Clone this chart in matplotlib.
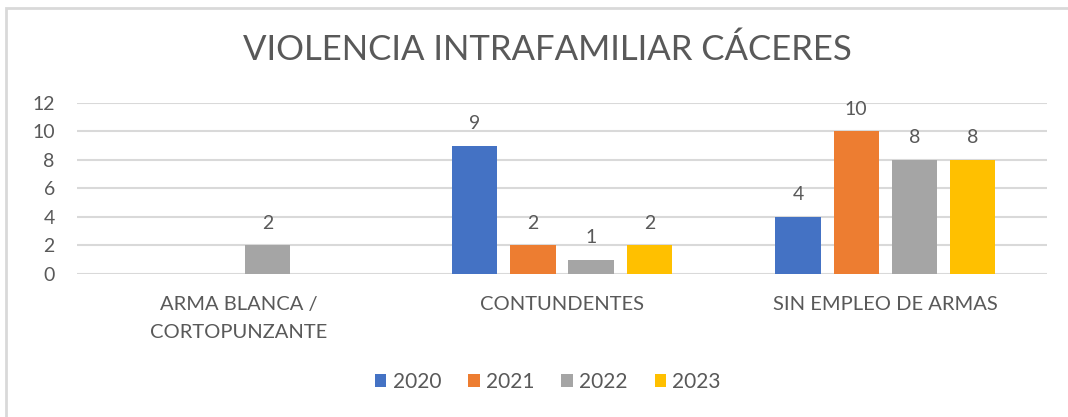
import matplotlib.pyplot as plt
import numpy as np
from matplotlib.patches import Rectangle

plt.rcParams.update({
    'font.family': ['Lato', 'DejaVu Sans'],
    'text.color': '#595959',
    'xtick.color': '#595959',
    'ytick.color': '#595959',
})

TEXT = '#595959'
GRID = '#d9d9d9'

categories = ['ARMA BLANCA /\nCORTOPUNZANTE', 'CONTUNDENTES', 'SIN EMPLEO DE ARMAS']
years = ['2020', '2021', '2022', '2023']
v2020 = [0, 9, 4]
v2021 = [0, 2, 10]
v2022 = [2, 1, 8]
v2023 = [0, 2, 8]
colors = ['#4472c4', '#ed7d31', '#a5a5a5', '#ffc000']

series = [v2020, v2021, v2022, v2023]

fig = plt.figure(figsize=(10.68, 4.17), dpi=100)
ax = fig.add_axes([0.0721, 0.343, 0.9082, 0.410])

x = np.arange(len(categories))
width = 0.14
pitch = 0.18
for i, (vals, col, yr) in enumerate(zip(series, colors, years)):
    pos = x + (i - 1.5) * pitch
    bars = ax.bar(pos, vals, width, color=col, label=yr, zorder=3)
    ax.bar_label(bars, labels=[str(v) if v else '' for v in vals],
                 padding=10, fontsize=14, color=TEXT)

ax.set_xlim(-0.5, 2.5)
ax.set_ylim(0, 12)
ax.set_yticks(range(0, 13, 2))
ax.yaxis.grid(True, color=GRID, lw=1.5, zorder=0)
ax.set_axisbelow(True)
for s in ax.spines.values():
    s.set_visible(False)
ax.tick_params(axis='both', length=0, labelsize=14)
ax.tick_params(axis='y', pad=16)
ax.tick_params(axis='x', pad=16, labelsize=14.5)
ax.set_xticks(x)
ax.set_xticklabels(categories, linespacing=1.75)

fig.text(0.513, 0.88, 'VIOLENCIA INTRAFAMILIAR CÁCERES', ha='center',
         va='center', fontsize=25, fontweight='normal', color=TEXT)

fig.legend(loc='center', bbox_to_anchor=(0.513, 0.084), ncol=4,
           frameon=False, fontsize=15, handlelength=0.55, handleheight=0.55,
           handletextpad=0.3, columnspacing=1.3)

# chart frame
fig.add_artist(Rectangle((6 / 1068, -0.1), 1.2, 1.1 - 8 / 417,
                         transform=fig.transFigure, fill=False,
                         edgecolor=GRID, lw=2))

fig.savefig('out.png', dpi=100, facecolor='white')
